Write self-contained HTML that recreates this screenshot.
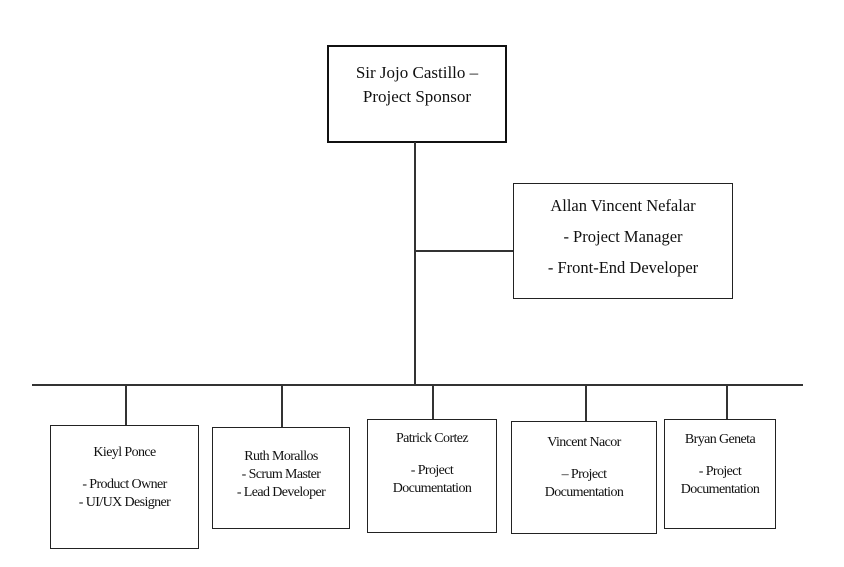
<!DOCTYPE html>
<html><head><style>
body{margin:0;width:844px;height:567px;background:#fff;position:relative;font-family:"Liberation Serif",serif;color:#111;overflow:hidden}
.b{position:absolute;border:1.5px solid #222;box-sizing:border-box;text-align:center}
.l{position:absolute;background:#333}
.s{font-size:14px;letter-spacing:-0.6px;line-height:18px}
</style></head><body>
<div class="b" style="left:327px;top:45px;width:180px;height:98px;border:2.5px solid #111;font-size:17px;line-height:24px;padding-top:14px">Sir Jojo Castillo –<br>Project Sponsor</div>
<div class="l" style="left:414px;top:142px;width:1.5px;height:243px"></div>
<div class="l" style="left:415px;top:250px;width:98px;height:1.5px"></div>
<div class="b" style="left:513px;top:183px;width:220px;height:116px;font-size:16.5px;line-height:31px;padding-top:6px">Allan Vincent Nefalar<br>- Project Manager<br>- Front-End Developer</div>
<div class="l" style="left:32px;top:384px;width:771px;height:1.5px"></div>
<div class="l" style="left:125px;top:385px;width:1.5px;height:40px"></div>
<div class="l" style="left:281px;top:385px;width:1.5px;height:42px"></div>
<div class="l" style="left:432px;top:385px;width:1.5px;height:34px"></div>
<div class="l" style="left:585px;top:385px;width:1.5px;height:36px"></div>
<div class="l" style="left:726px;top:385px;width:1.5px;height:34px"></div>
<div class="b s" style="left:50px;top:425px;width:149px;height:124px;padding-top:18px">Kieyl Ponce<br><div style="height:14px"></div>- Product Owner<br>- UI/UX Designer</div>
<div class="b s" style="left:212px;top:427px;width:138px;height:102px;padding-top:20px">Ruth Morallos<br>- Scrum Master<br>- Lead Developer</div>
<div class="b s" style="left:367px;top:419px;width:130px;height:114px;padding-top:10px">Patrick Cortez<br><div style="height:14px"></div>- Project<br>Documentation</div>
<div class="b s" style="left:511px;top:421px;width:146px;height:113px;padding-top:12px">Vincent Nacor<br><div style="height:14px"></div>– Project<br>Documentation</div>
<div class="b s" style="left:664px;top:419px;width:112px;height:110px;padding-top:11px">Bryan Geneta<br><div style="height:14px"></div>- Project<br>Documentation</div>
</body></html>
